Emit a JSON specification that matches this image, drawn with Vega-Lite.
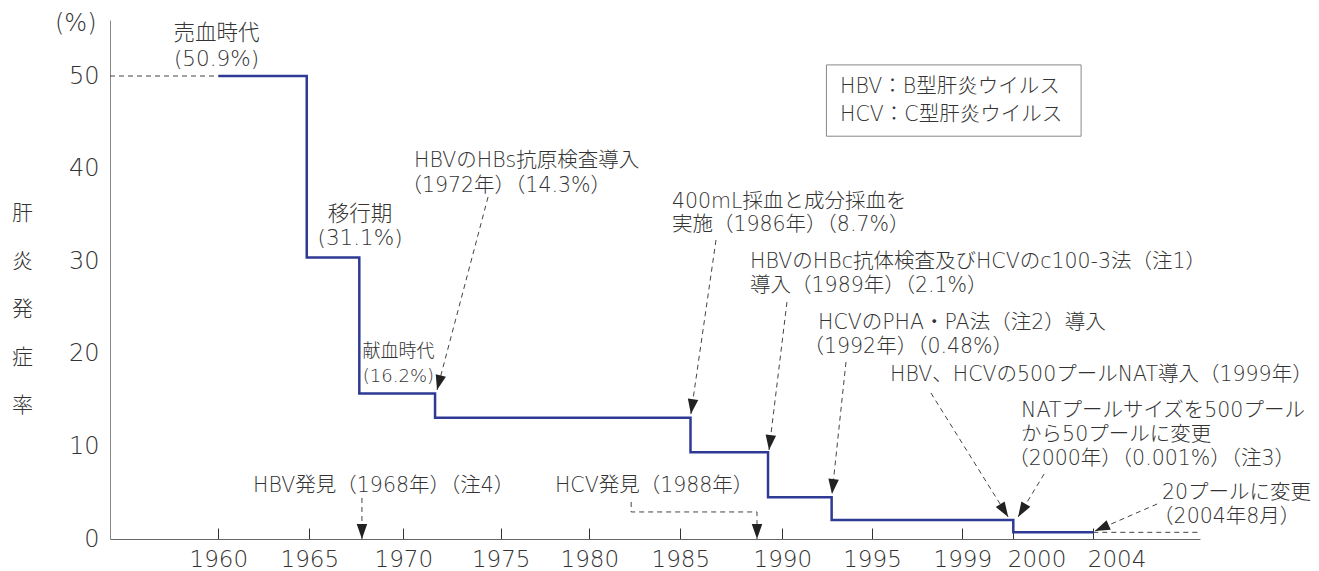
{
  "$schema": "https://vega.github.io/schema/vega-lite/v6.json",
  "width": 1090,
  "height": 519,
  "autosize": {"type": "none"},
  "padding": {"left": 110, "top": 20, "right": 119, "bottom": 32},
  "background": "white",
  "config": {
    "view": {"stroke": null},
    "font": "DejaVu Sans, Noto Sans CJK JP",
    "text": {"font": "DejaVu Sans, Noto Sans CJK JP", "color": "#333", "fontWeight": 300}
  },
  "title": {
    "text": "(%)",
    "anchor": "start",
    "frame": "group",
    "dx": -55,
    "dy": 28,
    "offset": 0,
    "baseline": "middle",
    "fontSize": 24,
    "fontWeight": 300,
    "color": "#333",
    "font": "DejaVu Sans, Noto Sans CJK JP"
  },
  "datasets": {
    "steps": [
      {"x": 1960, "y": 50},
      {"x": 1964.86, "y": 30.4},
      {"x": 1967.66, "y": 15.7},
      {"x": 1971.63, "y": 13.1},
      {"x": 1985.5, "y": 9.36},
      {"x": 1989.3, "y": 4.5},
      {"x": 1992.75, "y": 2.05},
      {"x": 2000, "y": 0.72},
      {"x": 2004, "y": 0.72}
    ],
    "leaders": [
      {"id": "ref50", "s": 1, "x": 1954.05, "y": 50},
      {"id": "ref50", "s": 2, "x": 1960, "y": 50},
      {"id": "tail", "s": 1, "x": 2004, "y": 0.72},
      {"id": "tail", "s": 2, "x": 2009.2, "y": 0.72},
      {"id": "a1972", "s": 1, "x": 1974.35, "y": 36.93},
      {"id": "a1972", "s": 2, "x": 1971.73, "y": 16.09},
      {"id": "a1986", "s": 1, "x": 1986.75, "y": 32.29},
      {"id": "a1986", "s": 2, "x": 1985.52, "y": 13.5},
      {"id": "a1989", "s": 1, "x": 1990.26, "y": 25.59},
      {"id": "a1989", "s": 2, "x": 1989.35, "y": 9.61},
      {"id": "a1992", "s": 1, "x": 1993.55, "y": 19.11},
      {"id": "a1992", "s": 2, "x": 1992.77, "y": 4.86},
      {"id": "a1999", "s": 1, "x": 1997.61, "y": 15.77},
      {"id": "a1999", "s": 2, "x": 1999.9, "y": 2.38},
      {"id": "a2000", "s": 1, "x": 2001.54, "y": 7.02},
      {"id": "a2000", "s": 2, "x": 2000.24, "y": 2.38},
      {"id": "a2004", "s": 1, "x": 2007.19, "y": 3.78},
      {"id": "a2004", "s": 2, "x": 2004.08, "y": 0.86},
      {"id": "aHBV", "s": 1, "x": 1967.8, "y": 4.43},
      {"id": "aHBV", "s": 2, "x": 1967.8, "y": 0},
      {"id": "aHCV", "s": 1, "x": 1982.3, "y": 4.0},
      {"id": "aHCV", "s": 2, "x": 1982.3, "y": 2.92},
      {"id": "aHCV", "s": 3, "x": 1988.76, "y": 2.92},
      {"id": "aHCV", "s": 4, "x": 1988.76, "y": 0}
    ],
    "arrows": [
      {"id": "a1972", "x": 1971.73, "y": 16.09},
      {"id": "a1986", "x": 1985.52, "y": 13.5},
      {"id": "a1989", "x": 1989.35, "y": 9.61},
      {"id": "a1992", "x": 1992.77, "y": 4.86},
      {"id": "a1999", "x": 1999.9, "y": 2.38},
      {"id": "a2000", "x": 2000.24, "y": 2.38},
      {"id": "a2004", "x": 2004.08, "y": 0.86},
      {"id": "aHBV", "x": 1967.8, "y": 0},
      {"id": "aHCV", "x": 1988.76, "y": 0}
    ],
    "box": [
      {"x": 1992.46, "x2": 2003.39, "y": 51.2, "y2": 43.5}
    ],
    "centerBig": [
      {"x": 1959.9, "y": 54.5, "t": "売血時代"},
      {"x": 1959.9, "y": 51.7, "t": "(50.9%)"},
      {"x": 1967.7, "y": 35.0, "t": "移行期"},
      {"x": 1967.7, "y": 32.4, "t": "(31.1%)"}
    ],
    "centerSmall": [
      {"x": 1969.74, "y": 20.2, "t": "献血時代"},
      {"x": 1969.74, "y": 17.5, "t": "(16.2%)"}
    ],
    "leftText": [
      {"x": 1970.55, "y": 40.8, "t": "HBVのHBs抗原検査導入"},
      {"x": 1969.9, "y": 38.1, "t": "（1972年）（14.3%）"},
      {"x": 1984.54, "y": 36.4, "t": "400mL採血と成分採血を"},
      {"x": 1984.54, "y": 33.9, "t": "実施（1986年）（8.7%）"},
      {"x": 1988.42, "y": 29.9, "t": "HBVのHBc抗体検査及びHCVのc100-3法（注1）"},
      {"x": 1988.42, "y": 27.3, "t": "導入（1989年）（2.1%）"},
      {"x": 1991.99, "y": 23.3, "t": "HCVのPHA・PA法（注2）導入"},
      {"x": 1991.18, "y": 20.7, "t": "（1992年）（0.48%）"},
      {"x": 1995.8, "y": 17.7, "t": "HBV、HCVの500プールNAT導入（1999年）"},
      {"x": 2000.39, "y": 13.8, "t": "NATプールサイズを500プール"},
      {"x": 2000.39, "y": 11.2, "t": "から50プールに変更"},
      {"x": 1999.9, "y": 8.6, "t": "（2000年）（0.001%）（注3）"},
      {"x": 2007.43, "y": 4.97, "t": "20プールに変更"},
      {"x": 2006.99, "y": 2.38, "t": "（2004年8月）"},
      {"x": 1961.91, "y": 5.72, "t": "HBV発見（1968年）（注4）"},
      {"x": 1978.06, "y": 5.72, "t": "HCV発見（1988年）"},
      {"x": 1993.22, "y": 48.81, "t": "HBV：B型肝炎ウイルス"},
      {"x": 1993.22, "y": 45.79, "t": "HCV：C型肝炎ウイルス"}
    ]
  },
  "encoding": {
    "x": {
      "field": "x",
      "type": "quantitative",
      "scale": {
        "domain": [1954.05, 1960, 1965, 1970, 1975, 1980, 1985, 1990, 1995, 1999, 2000, 2004, 2009.335],
        "range": [0, 108.3, 199.3, 293.3, 390.7, 479.3, 570.3, 672.3, 762, 852.3, 903.3, 983.3, 1090],
        "nice": false,
        "zero": false
      },
      "axis": {
        "values": [1960, 1965, 1970, 1975, 1980, 1985, 1990, 1995, 1999, 2000, 2004],
        "format": "d",
        "title": null,
        "grid": false,
        "domainColor": "#666",
        "domainWidth": 1.2,
        "tickColor": "#333",
        "tickWidth": 1,
        "tickSize": -11,
        "labelFontSize": 23,
        "labelFontWeight": 300,
        "labelColor": "#333",
        "labelPadding": 20,
        "labelFont": "DejaVu Sans, Noto Sans CJK JP",
        "labelAlign": {"condition": {"test": "datum.value >= 2000", "value": "left"}, "value": "center"},
        "labelOffset": {"condition": {"test": "datum.value >= 2000", "value": -6}, "value": 0}
      }
    },
    "y": {
      "field": "y",
      "type": "quantitative",
      "scale": {"domain": [0, 56.05], "nice": false, "zero": true},
      "axis": {
        "values": [0, 10, 20, 30, 40, 50],
        "ticks": false,
        "grid": false,
        "domainColor": "#888",
        "domainWidth": 1,
        "labelFontSize": 24,
        "labelFontWeight": 300,
        "labelPadding": 11,
        "labelColor": "#333",
        "labelFont": "DejaVu Sans, Noto Sans CJK JP",
        "title": ["肝", "炎", "発", "症", "率"],
        "titleAngle": 0,
        "titleX": -88,
        "titleY": 193,
        "titleAlign": "center",
        "titleBaseline": "middle",
        "titleLineHeight": 48,
        "titleFontSize": 21,
        "titleFontWeight": 300,
        "titleColor": "#333",
        "titleFont": "Noto Sans CJK JP"
      }
    }
  },
  "layer": [
    {
      "data": {"name": "box"},
      "mark": {"type": "rect", "fill": "white", "stroke": "#888", "strokeWidth": 1},
      "encoding": {"x2": {"field": "x2"}, "y2": {"field": "y2"}}
    },
    {
      "data": {"name": "leaders"},
      "mark": {"type": "line", "color": "#444", "strokeWidth": 1, "strokeDash": [5, 4]},
      "encoding": {"detail": {"field": "id"}, "order": {"field": "s"}}
    },
    {
      "data": {"name": "steps"},
      "mark": {"type": "line", "interpolate": "step-after", "color": "#2e3a94", "strokeWidth": 2.5},
      "encoding": {}
    },
    {
      "data": {"name": "arrows"},
      "transform": [{"filter": "datum.id == 'a1972'"}],
      "mark": {"type": "point", "shape": "M0,0L-0.7,-2L0.7,-2Z", "angle": 14.8, "size": 225, "filled": true, "color": "#222", "opacity": 1, "strokeWidth": 0}
    },
    {
      "data": {"name": "arrows"},
      "transform": [{"filter": "datum.id == 'a1986'"}],
      "mark": {"type": "point", "shape": "M0,0L-0.7,-2L0.7,-2Z", "angle": 8.2, "size": 225, "filled": true, "color": "#222", "opacity": 1, "strokeWidth": 0}
    },
    {
      "data": {"name": "arrows"},
      "transform": [{"filter": "datum.id == 'a1989'"}],
      "mark": {"type": "point", "shape": "M0,0L-0.7,-2L0.7,-2Z", "angle": 6.9, "size": 225, "filled": true, "color": "#222", "opacity": 1, "strokeWidth": 0}
    },
    {
      "data": {"name": "arrows"},
      "transform": [{"filter": "datum.id == 'a1992'"}],
      "mark": {"type": "point", "shape": "M0,0L-0.7,-2L0.7,-2Z", "angle": 6.1, "size": 225, "filled": true, "color": "#222", "opacity": 1, "strokeWidth": 0}
    },
    {
      "data": {"name": "arrows"},
      "transform": [{"filter": "datum.id == 'a1999'"}],
      "mark": {"type": "point", "shape": "M0,0L-0.7,-2L0.7,-2Z", "angle": -32.2, "size": 225, "filled": true, "color": "#222", "opacity": 1, "strokeWidth": 0}
    },
    {
      "data": {"name": "arrows"},
      "transform": [{"filter": "datum.id == 'a2000'"}],
      "mark": {"type": "point", "shape": "M0,0L-0.7,-2L0.7,-2Z", "angle": 31.2, "size": 225, "filled": true, "color": "#222", "opacity": 1, "strokeWidth": 0}
    },
    {
      "data": {"name": "arrows"},
      "transform": [{"filter": "datum.id == 'a2004'"}],
      "mark": {"type": "point", "shape": "M0,0L-0.7,-2L0.7,-2Z", "angle": 66.5, "size": 225, "filled": true, "color": "#222", "opacity": 1, "strokeWidth": 0}
    },
    {
      "data": {"name": "arrows"},
      "transform": [{"filter": "datum.id == 'aHBV' || datum.id == 'aHCV'"}],
      "mark": {"type": "point", "shape": "M0,0L-0.7,-2L0.7,-2Z", "angle": 0, "size": 225, "filled": true, "color": "#222", "opacity": 1, "strokeWidth": 0}
    },
    {
      "data": {"name": "centerBig"},
      "mark": {"type": "text", "align": "center", "baseline": "middle", "fontSize": 21.5, "color": "#333"},
      "encoding": {"text": {"field": "t"}}
    },
    {
      "data": {"name": "centerSmall"},
      "mark": {"type": "text", "align": "center", "baseline": "middle", "fontSize": 18, "color": "#333"},
      "encoding": {"text": {"field": "t"}}
    },
    {
      "data": {"name": "leftText"},
      "mark": {"type": "text", "align": "left", "baseline": "middle", "fontSize": 20.5, "color": "#333"},
      "encoding": {"text": {"field": "t"}}
    }
  ]
}
